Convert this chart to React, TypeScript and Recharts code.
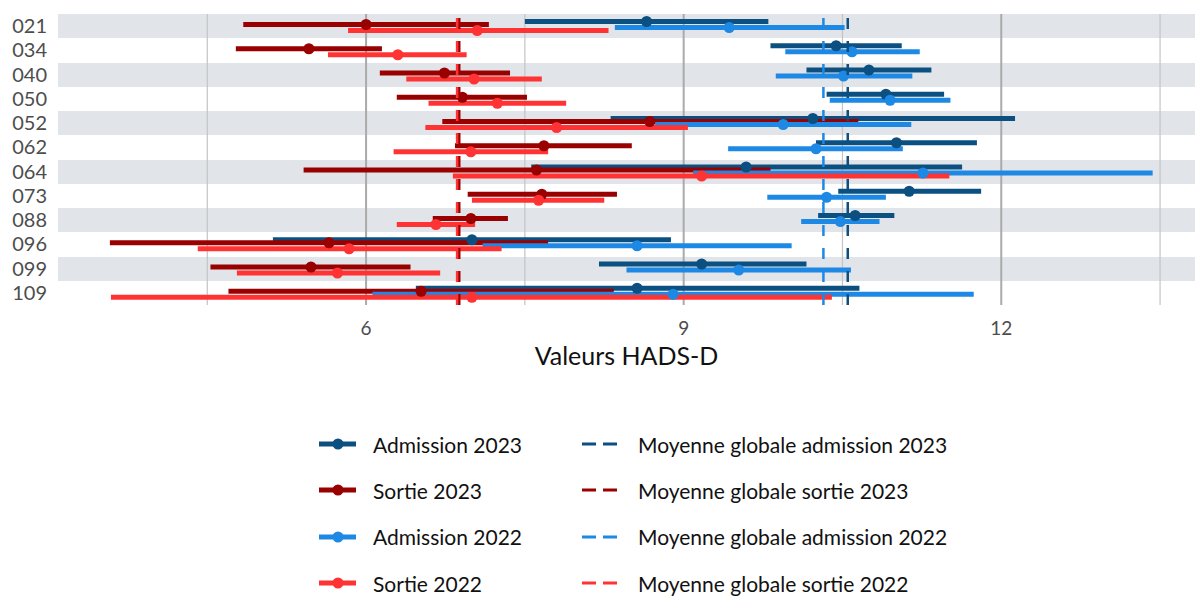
import React from "react";
import { ComposedChart, Bar, XAxis, YAxis, CartesianGrid, ReferenceLine } from "recharts";

const patients = ["021", "034", "040", "050", "052", "062", "064", "073", "088", "096", "099", "109"];

// Admission 2023
const adm2023Low = [7.5, 9.82, 10.16, 10.35, 8.31, 10.25, 7.56, 10.46, 10.27, 5.12, 8.2, 6.47];
const adm2023Mean = [8.65, 10.44, 10.75, 10.91, 10.22, 11.01, 9.59, 11.13, 10.62, 7.0, 9.17, 8.56];
const adm2023High = [9.8, 11.06, 11.34, 11.46, 12.13, 11.77, 11.63, 11.81, 10.99, 8.88, 10.16, 10.66];

// Sortie 2023
const sort2023Low = [4.84, 4.77, 6.13, 6.29, 6.72, 6.84, 5.41, 6.96, 6.63, 3.58, 4.53, 4.7];
const sort2023Mean = [6.0, 5.46, 6.74, 6.91, 8.68, 7.68, 7.61, 7.66, 6.99, 5.65, 5.48, 6.52];
const sort2023High = [7.16, 6.15, 7.36, 7.52, 10.65, 8.51, 9.82, 8.37, 7.34, 7.72, 6.42, 8.34];

// Admission 2022
const adm2022Low = [8.35, 9.96, 9.87, 10.38, 8.73, 9.42, 9.09, 9.79, 10.11, 7.1, 8.46, 6.06];
const adm2022Mean = [9.43, 10.59, 10.51, 10.95, 9.94, 10.25, 11.26, 10.35, 10.48, 8.56, 9.52, 8.9];
const adm2022High = [10.52, 11.23, 11.16, 11.52, 11.15, 11.07, 13.43, 10.91, 10.85, 10.02, 10.58, 11.74];

// Sortie 2022
const sort2022Low = [5.83, 5.64, 6.38, 6.59, 6.56, 6.26, 6.82, 7.0, 6.29, 4.41, 4.78, 3.59];
const sort2022Mean = [7.05, 6.3, 7.02, 7.24, 7.8, 6.99, 9.17, 7.63, 6.66, 5.84, 5.73, 7.0];
const sort2022High = [8.29, 6.95, 7.66, 7.89, 9.04, 7.72, 11.51, 8.25, 7.03, 7.28, 6.7, 10.4];

// moyennes globales
const meanAdm2023 = 10.55;
const meanSort2023 = 6.88;
const meanAdm2022 = 10.32;
const meanSort2022 = 6.86;

const xTicks = [6, 9, 12];
const xMinorTicks = [4.5, 7.5, 10.5, 13.5];
const X_MIN = 3.09;
const X_MAX = 13.83;

const DARK_BLUE = "#0b5080";
const DARK_RED = "#990000";
const LIGHT_BLUE = "#1e88e5";
const LIGHT_RED = "#ff3333";
const BAND = "#e1e4e8";

const series = [
  { key: "adm23", name: "Admission 2023", color: DARK_BLUE, low: adm2023Low, mean: adm2023Mean, high: adm2023High },
  { key: "sort23", name: "Sortie 2023", color: DARK_RED, low: sort2023Low, mean: sort2023Mean, high: sort2023High },
  { key: "adm22", name: "Admission 2022", color: LIGHT_BLUE, low: adm2022Low, mean: adm2022Mean, high: adm2022High },
  { key: "sort22", name: "Sortie 2022", color: LIGHT_RED, low: sort2022Low, mean: sort2022Mean, high: sort2022High },
];

const meanLines = [
  { name: "Moyenne globale admission 2023", color: DARK_BLUE, value: meanAdm2023 },
  { name: "Moyenne globale sortie 2023", color: DARK_RED, value: meanSort2023 },
  { name: "Moyenne globale admission 2022", color: LIGHT_BLUE, value: meanAdm2022 },
  { name: "Moyenne globale sortie 2022", color: LIGHT_RED, value: meanSort2022 },
];

const rows = patients.map((id, i) => {
  const row: any = { id };
  series.forEach((s) => {
    row[s.key] = [s.low[i], s.high[i]];
    row[s.key + "Dot"] = [s.mean[i], s.high[i]];
  });
  return row;
});

const stripes = ({ offset }: any) =>
  patients.map((_, i) => offset.top + (i * offset.height) / patients.length).concat(offset.top + offset.height);

const vertical = (values: number[]) => ({ xAxis, offset }: any) =>
  values.map((v) => {
    const s = xAxis?.scale;
    if (typeof s === "function") return s(v);
    return offset.left + ((v - X_MIN) / (X_MAX - X_MIN)) * offset.width;
  });

const dotShape = (color: string) => (p: any) =>
  <circle cx={p.x} cy={p.y + p.height / 2} r={5.5} fill={color} />;

function Legend() {
  const rowTop = (i: number) => 444 + i * 46.4 - 13;
  return (
    <div>
      {series.map((s, i) => (
        <div key={s.key} style={{ position: "absolute", left: 319, top: rowTop(i), height: 26, display: "flex", alignItems: "center" }}>
          <svg width={38} height={14}>
            <rect x={0} y={4.5} width={37} height={5} fill={s.color} />
            <circle cx={19} cy={7} r={5.5} fill={s.color} />
          </svg>
          <span style={{ marginLeft: 16, fontSize: 21, color: "#111" }}>{s.name}</span>
        </div>
      ))}
      {meanLines.map((m, i) => (
        <div key={m.name} style={{ position: "absolute", left: 582, top: rowTop(i), height: 26, display: "flex", alignItems: "center" }}>
          <svg width={36} height={14}>
            <line x1={0} y1={7} x2={35} y2={7} stroke={m.color} strokeWidth={3} strokeDasharray="14 7" />
          </svg>
          <span style={{ marginLeft: 20, fontSize: 21, color: "#111" }}>{m.name}</span>
        </div>
      ))}
    </div>
  );
}

export default function App() {
  return (
    <div style={{ position: "relative", width: 1195, height: 596, fontFamily: "Lato, sans-serif", background: "#fff" }}>
      <style>{`body{margin:0;}`}</style>
      <ComposedChart
        layout="vertical"
        width={1195}
        height={372}
        data={rows}
        margin={{ top: 14, right: 0, bottom: 7, left: 0 }}
        barGap={-2}
      >
        <CartesianGrid vertical={false} stroke="none" horizontalFill={[BAND, "none"]} horizontalCoordinatesGenerator={stripes} />
        <CartesianGrid horizontal={false} stroke="#c4c4c4" strokeWidth={1.2} verticalCoordinatesGenerator={vertical(xMinorTicks)} />
        <CartesianGrid horizontal={false} stroke="#aaaaaa" strokeWidth={2} verticalCoordinatesGenerator={vertical(xTicks)} />
        <XAxis
          type="number"
          domain={[X_MIN, X_MAX]}
          allowDataOverflow
          ticks={xTicks}
          axisLine={false}
          tickLine={false}
          tickSize={0}
          tickMargin={17}
          height={60}
          tick={{ fill: "#4d4d4d", fontSize: 19 }}
          label={{ value: "Valeurs HADS-D", position: "insideBottom", offset: 0, fontSize: 25, fill: "#111" }}
        />
        <YAxis
          type="category"
          dataKey="id"
          width={58}
          interval={0}
          axisLine={false}
          tickLine={false}
          tickSize={0}
          tickMargin={11}
          tick={{ fill: "#4d4d4d", fontSize: 20 }}
        />
        <YAxis yAxisId="dots" type="category" dataKey="id" hide />
        {series.map((s) => (
          <Bar key={s.key} dataKey={s.key} name={s.name} fill={s.color} barSize={5} isAnimationActive={false} />
        ))}
        {meanLines.map((m) => (
          <ReferenceLine key={m.name} x={m.value} stroke={m.color} strokeWidth={2.5} strokeDasharray="11 12" />
        ))}
        {series.map((s) => (
          <Bar
            key={s.key + "Dot"}
            yAxisId="dots"
            dataKey={s.key + "Dot"}
            fill={s.color}
            barSize={5}
            shape={dotShape(s.color)}
            isAnimationActive={false}
          />
        ))}
      </ComposedChart>
      <Legend />
    </div>
  );
}
